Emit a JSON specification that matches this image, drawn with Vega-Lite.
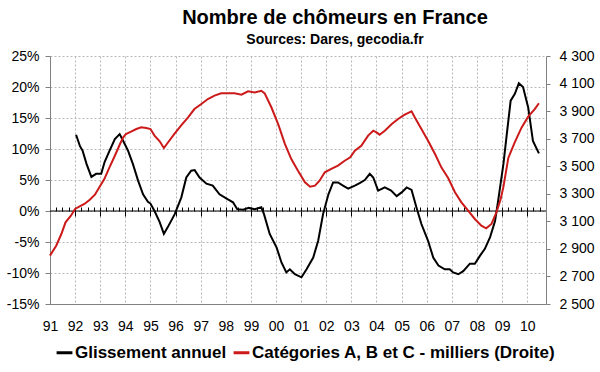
{
  "$schema": "https://vega.github.io/schema/vega-lite/v6.json",
  "autosize": {"type": "none"},
  "width": 496,
  "height": 248,
  "padding": {"left": 50, "top": 56, "right": 54, "bottom": 68},
  "background": "white",
  "config": {
    "font": "Liberation Sans",
    "view": {"stroke": null},
    "axis": {"labelFont": "Liberation Sans", "labelFontSize": 14, "labelColor": "#000000", "title": null}
  },
  "title": {
    "text": "Nombre de chômeurs en France",
    "subtitle": "Sources: Dares, gecodia.fr",
    "anchor": "middle",
    "dx": 37,
    "font": "Liberation Sans",
    "fontSize": 20,
    "fontWeight": "bold",
    "color": "#000000",
    "subtitleFont": "Liberation Sans",
    "subtitleFontSize": 14,
    "subtitleFontWeight": "bold",
    "subtitleColor": "#000000",
    "subtitlePadding": 5,
    "offset": 2
  },
  "datasets": {
    "gl": [
      {"date": "1992-01-15", "v": 12.3},
      {"date": "1992-03-10", "v": 10.5},
      {"date": "1992-04-20", "v": 9.7},
      {"date": "1992-06-15", "v": 7.6},
      {"date": "1992-08-25", "v": 5.5},
      {"date": "1992-11-01", "v": 6.0},
      {"date": "1993-01-15", "v": 6.0},
      {"date": "1993-03-05", "v": 7.9},
      {"date": "1993-05-15", "v": 9.7},
      {"date": "1993-08-01", "v": 11.6},
      {"date": "1993-10-10", "v": 12.4},
      {"date": "1993-12-01", "v": 11.3},
      {"date": "1994-02-10", "v": 9.7},
      {"date": "1994-04-20", "v": 7.6},
      {"date": "1994-07-05", "v": 4.9},
      {"date": "1994-09-15", "v": 2.7},
      {"date": "1994-11-25", "v": 1.5},
      {"date": "1995-01-01", "v": 1.2},
      {"date": "1995-03-01", "v": 0.0},
      {"date": "1995-05-15", "v": -1.8},
      {"date": "1995-07-15", "v": -3.7},
      {"date": "1995-09-10", "v": -2.6},
      {"date": "1995-12-20", "v": -0.5},
      {"date": "1996-03-25", "v": 2.2},
      {"date": "1996-06-05", "v": 5.4},
      {"date": "1996-08-15", "v": 6.5},
      {"date": "1996-10-05", "v": 6.6},
      {"date": "1996-12-15", "v": 5.4},
      {"date": "1997-03-25", "v": 4.4},
      {"date": "1997-06-25", "v": 4.1},
      {"date": "1997-10-01", "v": 2.7},
      {"date": "1998-01-25", "v": 1.9},
      {"date": "1998-04-15", "v": 1.4},
      {"date": "1998-06-15", "v": 0.3},
      {"date": "1998-09-10", "v": 0.2},
      {"date": "1998-12-01", "v": 0.5},
      {"date": "1999-02-25", "v": 0.3},
      {"date": "1999-06-01", "v": 0.6},
      {"date": "1999-07-10", "v": -0.5},
      {"date": "1999-10-01", "v": -3.7},
      {"date": "2000-01-10", "v": -5.9},
      {"date": "2000-03-20", "v": -8.3},
      {"date": "2000-05-30", "v": -9.9},
      {"date": "2000-07-20", "v": -9.4},
      {"date": "2000-10-01", "v": -10.2},
      {"date": "2001-01-05", "v": -10.7},
      {"date": "2001-03-20", "v": -9.4},
      {"date": "2001-06-25", "v": -7.5},
      {"date": "2001-09-05", "v": -4.8},
      {"date": "2001-11-15", "v": -0.5},
      {"date": "2002-02-01", "v": 2.7},
      {"date": "2002-04-10", "v": 4.6},
      {"date": "2002-06-20", "v": 4.6},
      {"date": "2002-09-01", "v": 4.1},
      {"date": "2002-11-15", "v": 3.6},
      {"date": "2003-02-20", "v": 4.1},
      {"date": "2003-05-01", "v": 4.5},
      {"date": "2003-07-15", "v": 5.0},
      {"date": "2003-09-25", "v": 6.0},
      {"date": "2003-11-15", "v": 5.4},
      {"date": "2004-01-25", "v": 3.3},
      {"date": "2004-05-01", "v": 3.8},
      {"date": "2004-08-01", "v": 3.3},
      {"date": "2004-10-20", "v": 2.4},
      {"date": "2005-01-01", "v": 3.0},
      {"date": "2005-03-15", "v": 3.8},
      {"date": "2005-05-25", "v": 3.4},
      {"date": "2005-08-01", "v": 0.7},
      {"date": "2005-10-15", "v": -2.1},
      {"date": "2006-01-20", "v": -4.8},
      {"date": "2006-04-05", "v": -7.5},
      {"date": "2006-06-20", "v": -8.8},
      {"date": "2006-09-20", "v": -9.4},
      {"date": "2006-12-01", "v": -9.4},
      {"date": "2007-01-20", "v": -9.9},
      {"date": "2007-04-05", "v": -10.2},
      {"date": "2007-06-15", "v": -9.7},
      {"date": "2007-09-20", "v": -8.5},
      {"date": "2007-12-01", "v": -8.5},
      {"date": "2008-02-15", "v": -7.2},
      {"date": "2008-04-25", "v": -6.1},
      {"date": "2008-07-10", "v": -4.2},
      {"date": "2008-09-20", "v": -1.6},
      {"date": "2008-11-05", "v": 1.7},
      {"date": "2009-01-20", "v": 7.6},
      {"date": "2009-03-05", "v": 11.9},
      {"date": "2009-05-05", "v": 17.8},
      {"date": "2009-07-05", "v": 18.9},
      {"date": "2009-09-01", "v": 20.6},
      {"date": "2009-11-01", "v": 20.0},
      {"date": "2010-01-15", "v": 16.7},
      {"date": "2010-03-25", "v": 11.3},
      {"date": "2010-06-20", "v": 9.3}
    ],
    "abc": [
      {"date": "1991-01-01", "v": 2851},
      {"date": "1991-04-01", "v": 2923},
      {"date": "1991-06-15", "v": 3008},
      {"date": "1991-08-15", "v": 3093},
      {"date": "1991-11-01", "v": 3141},
      {"date": "1992-01-01", "v": 3190},
      {"date": "1992-03-01", "v": 3206},
      {"date": "1992-05-15", "v": 3226},
      {"date": "1992-08-01", "v": 3257},
      {"date": "1992-10-15", "v": 3293},
      {"date": "1993-01-01", "v": 3359},
      {"date": "1993-03-01", "v": 3407},
      {"date": "1993-05-15", "v": 3492},
      {"date": "1993-08-01", "v": 3576},
      {"date": "1993-10-15", "v": 3661},
      {"date": "1993-12-01", "v": 3710},
      {"date": "1994-01-10", "v": 3734},
      {"date": "1994-04-01", "v": 3753},
      {"date": "1994-06-10", "v": 3770},
      {"date": "1994-08-20", "v": 3782},
      {"date": "1994-11-01", "v": 3777},
      {"date": "1995-01-01", "v": 3770},
      {"date": "1995-03-01", "v": 3722},
      {"date": "1995-05-15", "v": 3681},
      {"date": "1995-07-15", "v": 3632},
      {"date": "1995-09-15", "v": 3674},
      {"date": "1995-12-15", "v": 3734},
      {"date": "1996-03-20", "v": 3794},
      {"date": "1996-07-01", "v": 3855},
      {"date": "1996-10-01", "v": 3915},
      {"date": "1997-01-10", "v": 3952},
      {"date": "1997-04-15", "v": 3988},
      {"date": "1997-07-20", "v": 4012},
      {"date": "1997-10-25", "v": 4029},
      {"date": "1998-02-01", "v": 4029},
      {"date": "1998-05-10", "v": 4029},
      {"date": "1998-08-15", "v": 4019},
      {"date": "1998-11-20", "v": 4044},
      {"date": "1999-02-25", "v": 4036},
      {"date": "1999-06-01", "v": 4048},
      {"date": "1999-07-20", "v": 4029},
      {"date": "1999-10-25", "v": 3928},
      {"date": "2000-02-01", "v": 3806},
      {"date": "2000-05-10", "v": 3661},
      {"date": "2000-08-10", "v": 3552},
      {"date": "2000-11-15", "v": 3467},
      {"date": "2001-02-25", "v": 3383},
      {"date": "2001-05-10", "v": 3351},
      {"date": "2001-07-20", "v": 3359},
      {"date": "2001-09-25", "v": 3395},
      {"date": "2001-12-10", "v": 3456},
      {"date": "2002-03-15", "v": 3480},
      {"date": "2002-06-20", "v": 3504},
      {"date": "2002-09-25", "v": 3540},
      {"date": "2002-12-15", "v": 3565},
      {"date": "2003-02-20", "v": 3613},
      {"date": "2003-05-25", "v": 3649},
      {"date": "2003-09-01", "v": 3722},
      {"date": "2003-11-15", "v": 3758},
      {"date": "2004-01-01", "v": 3746},
      {"date": "2004-02-15", "v": 3729},
      {"date": "2004-05-01", "v": 3758},
      {"date": "2004-08-10", "v": 3806},
      {"date": "2004-11-10", "v": 3843},
      {"date": "2005-02-15", "v": 3874},
      {"date": "2005-05-25", "v": 3899},
      {"date": "2005-07-10", "v": 3855},
      {"date": "2005-10-15", "v": 3770},
      {"date": "2006-01-20", "v": 3685},
      {"date": "2006-05-01", "v": 3589},
      {"date": "2006-08-01", "v": 3492},
      {"date": "2006-11-10", "v": 3413},
      {"date": "2007-02-15", "v": 3311},
      {"date": "2007-05-20", "v": 3238},
      {"date": "2007-08-25", "v": 3177},
      {"date": "2007-12-01", "v": 3117},
      {"date": "2008-03-05", "v": 3068},
      {"date": "2008-05-15", "v": 3049},
      {"date": "2008-07-30", "v": 3081},
      {"date": "2008-10-10", "v": 3165},
      {"date": "2008-12-10", "v": 3260},
      {"date": "2009-01-20", "v": 3351},
      {"date": "2009-04-01", "v": 3560},
      {"date": "2009-07-05", "v": 3675},
      {"date": "2009-10-10", "v": 3780},
      {"date": "2010-01-15", "v": 3860},
      {"date": "2010-04-20", "v": 3915},
      {"date": "2010-06-20", "v": 3957}
    ]
  },
  "layer": [
    {
      "data": {"values": [{}]},
      "mark": {"type": "rule", "color": "#000000", "strokeWidth": 1},
      "encoding": {
        "x": {
          "datum": {"year": 1991, "month": 1, "date": 1},
          "type": "temporal",
          "scale": {"domain": [{"year": 1991, "month": 1, "date": 1}, {"year": 2010, "month": 10, "date": 1}]},
          "axis": {"orient": "bottom", "offset": -93, "labels": false, "grid": false, "domain": false, "tickCount": {"interval": "year", "step": 1}, "tickSize": 5, "tickColor": "#000000", "zindex": 0}
        },
        "x2": {"datum": {"year": 2010, "month": 10, "date": 1}},
        "y": {"datum": 0, "type": "quantitative", "scale": {"domain": [-15, 25]}, "axis": null}
      }
    },
    {
      "data": {"name": "gl"},
      "mark": {"type": "line", "strokeWidth": 2},
      "encoding": {
        "x": {
          "field": "date", "type": "temporal",
          "scale": {"domain": [{"year": 1991, "month": 1, "date": 1}, {"year": 2010, "month": 10, "date": 1}]},
          "axis": {"orient": "bottom", "format": "%y", "tickCount": {"interval": "year", "step": 1}, "grid": true, "gridColor": "#b8b8b8", "gridDash": [2, 2], "ticks": false, "labelPadding": 15, "domainColor": "#808080", "labelFlush": false, "labelOverlap": false}
        },
        "y": {
          "field": "v", "type": "quantitative",
          "scale": {"domain": [-15, 25]},
          "axis": {"orient": "left", "values": [-15, -10, -5, 0, 5, 10, 15, 20, 25], "labelExpr": "datum.value + '%'", "grid": true, "gridColor": "#b8b8b8", "gridDash": [2, 2], "tickSize": 5, "tickColor": "#808080", "domainColor": "#808080", "labelPadding": 6}
        },
        "color": {
          "datum": "Glissement annuel", "type": "nominal",
          "scale": {"domain": ["Glissement annuel", "Catégories A, B et C - milliers (Droite)"], "range": ["#000000", "#cc1a1a"]},
          "legend": {"orient": "none", "legendX": 5, "legendY": 287, "direction": "horizontal", "title": null, "symbolType": "stroke", "symbolStrokeWidth": 3, "symbolSize": 250, "labelFont": "Liberation Sans", "labelFontSize": 17, "labelFontWeight": "bold", "labelColor": "#000000", "columnPadding": 0, "labelOffset": 1, "labelLimit": 400}
        }
      }
    },
    {
      "data": {"name": "abc"},
      "mark": {"type": "line", "strokeWidth": 2},
      "encoding": {
        "x": {
          "field": "date", "type": "temporal",
          "scale": {"domain": [{"year": 1991, "month": 1, "date": 1}, {"year": 2010, "month": 10, "date": 1}]},
          "axis": {"orient": "bottom", "offset": -93, "labels": false, "grid": false, "domain": false, "tickCount": {"interval": "month", "step": 3}, "tickSize": -4, "tickColor": "#000000", "zindex": 0}
        },
        "y": {
          "field": "v", "type": "quantitative",
          "scale": {"domain": [2500, 4300]},
          "axis": {"orient": "right", "values": [2500, 2700, 2900, 3100, 3300, 3500, 3700, 3900, 4100, 4300], "labelExpr": "replace(format(datum.value, ','), ',', ' ')", "grid": false, "tickSize": 4, "tickColor": "#808080", "domainColor": "#808080", "labelPadding": 9}
        },
        "color": {"datum": "Catégories A, B et C - milliers (Droite)", "type": "nominal"}
      }
    }
  ],
  "resolve": {"scale": {"y": "independent"}, "axis": {"x": "independent", "y": "independent"}}
}
